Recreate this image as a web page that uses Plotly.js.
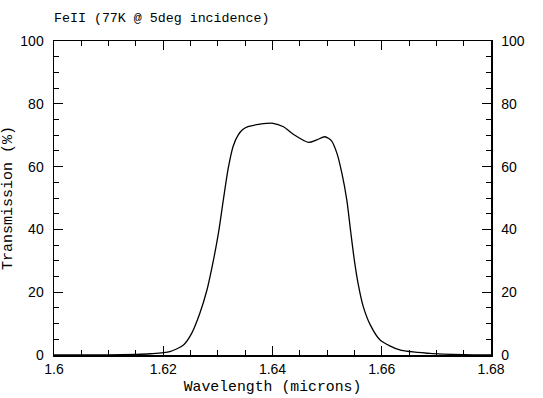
<!DOCTYPE html>
<html><head><meta charset="utf-8">
<script src="https://cdn.plot.ly/plotly-3.0.1.min.js"></script>
<style>html,body{margin:0;padding:0;background:#fff}</style>
</head><body>
<div id="chart" style="width:543px;height:398px"></div>
<script>
var wavelength = [1.600, 1.605, 1.610, 1.615, 1.6176, 1.6212, 1.6237, 1.6252, 1.6267, 1.6280, 1.6292, 1.6301, 1.6310, 1.6319, 1.6328, 1.6337, 1.6345, 1.6355, 1.6377, 1.6401, 1.6420, 1.6438, 1.6466, 1.6481, 1.6496, 1.6508, 1.6518, 1.6527, 1.6536, 1.6543, 1.6550, 1.6557, 1.6566, 1.6579, 1.6597, 1.6633, 1.6688, 1.675, 1.680];
var transmission = [0.0, 0.0, 0.05, 0.2, 0.4, 1.05, 3.2, 6.9, 13.3, 20.7, 30.3, 38.8, 49.4, 59.5, 66.5, 70.0, 71.7, 72.7, 73.5, 73.8, 72.7, 70.3, 67.7, 68.5, 69.5, 68.2, 64.2, 57.9, 49.4, 39.5, 30.0, 22.5, 15.5, 9.6, 4.8, 1.6, 0.5, 0.1, 0.0];
var xTicks = [1.6, 1.62, 1.64, 1.66, 1.68];
var xTickLabels = ['1.6', '1.62', '1.64', '1.66', '1.68'];
var yTicks = [0, 20, 40, 60, 80, 100];

var mono = 'Liberation Mono, Courier New, monospace';
var sans = 'Liberation Sans, Arial, sans-serif';

var traces = [
  {x: wavelength, y: transmission, type: 'scatter', mode: 'lines', line: {color: '#000', width: 1.3, shape: 'spline', smoothing: 0.7}, hoverinfo: 'skip'},
  {x: wavelength, y: transmission, type: 'scatter', mode: 'lines', xaxis: 'x2', yaxis: 'y2', line: {color: 'rgba(0,0,0,0)', width: 0}, hoverinfo: 'skip', showlegend: false}
];
var axCommon = {showgrid: false, zeroline: false, ticks: 'inside', ticklen: 9, tickwidth: 1, tickcolor: '#000', linecolor: '#000', linewidth: 1.5, showline: true,
  minor: {ticks: 'inside', ticklen: 5, tickwidth: 1, tickcolor: '#000'}, tickfont: {family: sans, size: 14, color: '#000'}};
var layout = {
  width: 543, height: 398,
  margin: {l: 54, r: 52, t: 41, b: 43},
  paper_bgcolor: '#fff', plot_bgcolor: '#fff',
  showlegend: false,
  title: {text: 'FeII (77K @ 5deg incidence)', x: 0, xref: 'paper', xanchor: 'left', y: 0.957, yanchor: 'middle', font: {family: mono, size: 13.3, color: '#000'}},
  xaxis: Object.assign({}, axCommon, {range: [1.6, 1.68], tickvals: xTicks, ticktext: xTickLabels, ticklabelstandoff: 1, minor: Object.assign({}, axCommon.minor, {dtick: 0.005, tick0: 1.6}),
    title: {text: 'Wavelength (microns)', font: {family: mono, size: 14.8, color: '#000'}, standoff: 4}}),
  yaxis: Object.assign({}, axCommon, {range: [0, 100], tickvals: yTicks, ticklabelstandoff: 6, minor: Object.assign({}, axCommon.minor, {dtick: 5, tick0: 0}),
    title: {text: 'Transmission (%)', font: {family: mono, size: 15, color: '#000'}, standoff: 4}}),
  xaxis2: Object.assign({}, axCommon, {range: [1.6, 1.68], overlaying: 'x', side: 'top', tickvals: xTicks, showticklabels: false, minor: Object.assign({}, axCommon.minor, {dtick: 0.005, tick0: 1.6})}),
  yaxis2: Object.assign({}, axCommon, {range: [0, 100], overlaying: 'y', side: 'right', tickvals: yTicks, ticklabelstandoff: 6, minor: Object.assign({}, axCommon.minor, {dtick: 5, tick0: 0})})
};
Plotly.newPlot('chart', traces, layout, {staticPlot: true, displayModeBar: false});
</script>
</body></html>
